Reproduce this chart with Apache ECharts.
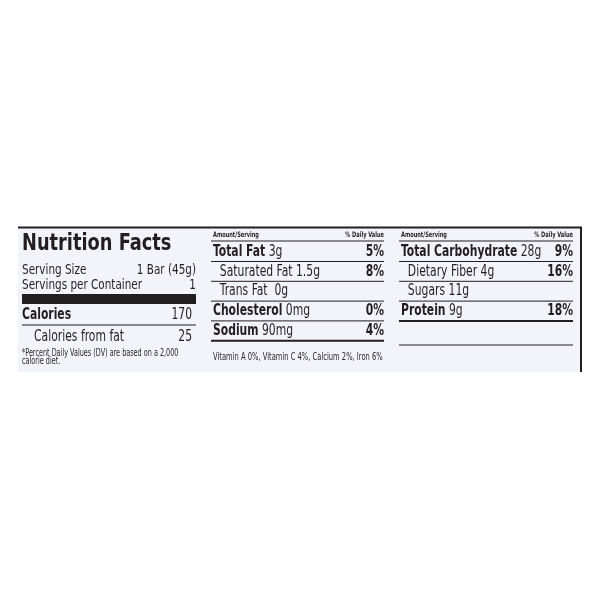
<!DOCTYPE html>
<html>
<head>
<meta charset="utf-8">
<title>Nutrition Facts</title>
<script src="https://cdn.jsdelivr.net/npm/echarts@6/dist/echarts.min.js"></script>
</head>
<body style="margin:0;background:#fff">
<div id="main" style="width:600px;height:600px;"></div>
<script>
var myChart = echarts.init(document.getElementById('main'));

var title = 'Nutrition Facts';
var servingLabels = ['Serving Size', 'Servings per Container'];
var servingValues = ['1 Bar (45g)', '1'];
var calorieLabels = ['Calories', 'Calories from fat'];
var calorieValues = ['170', '25'];
var footnote = ['*Percent Daily Values (DV) are based on a 2,000', 'calorie diet.'];

var midBold = ['Total Fat', '  Saturated Fat', '  Trans Fat', 'Cholesterol', 'Sodium'];
var midAmount = [' 3g', ' 1.5g', '  0g', ' 0mg', ' 90mg'];
var midBoldFlag = [true, false, false, true, true];
var midDV = ['5%', '8%', '', '0%', '4%'];
var vitamins = 'Vitamin A 0%, Vitamin C 4%, Calcium 2%, Iron 6%';

var rightBold = ['Total Carbohydrate', '  Dietary Fiber', '  Sugars', 'Protein'];
var rightAmount = [' 28g', ' 4g', ' 11g', ' 9g'];
var rightBoldFlag = [true, false, false, true];
var rightDV = ['9%', '16%', '', '18%'];

var F = "'DejaVu Sans Condensed', 'Liberation Sans Narrow', sans-serif";
var C = '#231f20';
var SX = 0.8;
var g = [];

function txt(x, y, s, size, weight, align, sx) {
    g.push({type: 'text', x: x, y: y, scaleX: sx || SX, style: {text: s, x: 0, y: 0, fill: C, font: (weight || 'normal') + ' ' + size + 'px ' + F, textAlign: align || 'left', textVerticalAlign: 'middle'}});
}
function line(x1, x2, y, w) {
    g.push({type: 'line', shape: {x1: x1, y1: y, x2: x2, y2: y}, style: {stroke: C, lineWidth: w || 1}});
}

// panel
g.push({type: 'rect', shape: {x: 18, y: 227, width: 563, height: 145}, style: {fill: '#f3f4fb'}});
line(18, 582, 227.5, 2);
g.push({type: 'line', shape: {x1: 581, y1: 227, x2: 581, y2: 372}, style: {stroke: C, lineWidth: 2}});

// left column
txt(22, 244, title, 23, 'bold', 'left', 0.86);
servingLabels.forEach(function (s, i) {
    txt(22, 270 + i * 15, s, 14.5);
    txt(196, 270 + i * 15, servingValues[i], 14.5, 'normal', 'right');
});
g.push({type: 'rect', shape: {x: 22, y: 294, width: 174, height: 10}, style: {fill: C}});
calorieLabels.forEach(function (s, i) {
    txt(i ? 34 : 22, 315 + i * 22, s, 15, i ? 'normal' : 'bold');
    txt(192, 315 + i * 22, calorieValues[i], 15, 'normal', 'right');
});
line(22, 196, 325, 1);
footnote.forEach(function (s, i) {
    txt(22, 353 + i * 8, s, 10, 'normal', 'left', 0.72);
});

// columns with rows
function column(x0, x1, bold, amt, flag, dv) {
    txt(x0 + 2, 235, 'Amount/Serving', 7.5, 'bold', 'left', 0.75);
    txt(x1, 235, '% Daily Value', 7.5, 'bold', 'right', 0.75);
    line(x0, x1, 241, 1);
    bold.forEach(function (s, i) {
        var y = 252 + i * 19.8;
        g.push({type: 'text', x: x0 + 2, y: y, scaleX: SX, style: {
            text: '{' + (flag[i] ? 'b' : 'n') + '|' + s + '}{n|' + amt[i] + '}',
            x: 0, y: 0, textVerticalAlign: 'middle',
            rich: {b: {fontFamily: F, fontSize: 15, fontWeight: 'bold', fill: C}, n: {fontFamily: F, fontSize: 15, fill: C}}
        }});
        if (dv[i]) txt(x1, y, dv[i], 15, 'bold', 'right');
        line(x0, x1, y + 9.5, i === bold.length - 1 ? 2 : 1);
    });
}
column(211, 384, midBold, midAmount, midBoldFlag, midDV);
txt(213, 357, vitamins, 10, 'normal', 'left', 0.75);
column(399, 573, rightBold, rightAmount, rightBoldFlag, rightDV);
line(399, 573, 345, 1);

myChart.setOption({graphic: g});
</script>
</body>
</html>
